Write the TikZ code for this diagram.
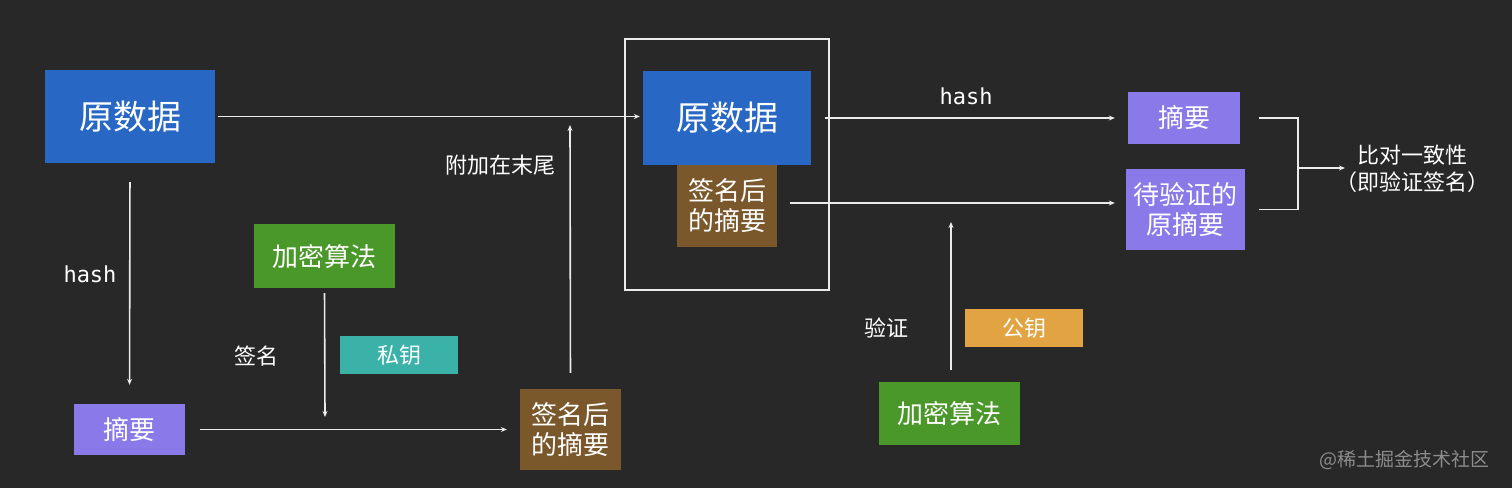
\documentclass[tikz,border=0pt]{standalone}
\usepackage{fontspec}
\setmainfont{Noto Sans CJK SC}
\newfontfamily\monof{DejaVu Sans Mono}
\usetikzlibrary{arrows.meta}
\definecolor{bg}{RGB}{40,40,40}
\definecolor{cblue}{RGB}{40,104,196}
\definecolor{cpurple}{RGB}{138,121,232}
\definecolor{cgreen}{RGB}{74,152,41}
\definecolor{cteal}{RGB}{58,178,168}
\definecolor{cbrown}{RGB}{122,88,44}
\definecolor{corange}{RGB}{226,164,66}
\definecolor{cline}{RGB}{235,235,235}
\definecolor{cwm}{RGB}{140,140,140}
\begin{document}
\begin{tikzpicture}[x=1pt,y=-1pt,
  box/.style={inner sep=0pt, text=white, align=center, minimum width=#1},
  big/.style={font=\fontsize{34}{38}\selectfont},
  mid/.style={font=\fontsize{26}{30}\selectfont},
  small/.style={font=\fontsize{22}{26}\selectfont},
  lbl/.style={text=white, inner sep=0pt, font=\fontsize{22}{27}\selectfont, align=center},
  hashlbl/.style={text=white, inner sep=0pt, font=\monof\fontsize{22}{26}\selectfont},
  conn/.style={draw=cline, line width=1.6pt, -{Stealth[length=6pt,width=5pt]}},
  plain/.style={draw=cline, line width=1.6pt}
]
\useasboundingbox (0,0) rectangle (1512,488);
\fill[bg] (0,0) rectangle (1512,488);

% left side
\node[box=170pt, minimum height=93pt, fill=cblue, big] (A) at (130,116.5) {原数据};
\node[box=111pt, minimum height=51pt, fill=cpurple, mid] (B) at (129.5,429.5) {摘要};
\node[box=141pt, minimum height=64pt, fill=cgreen, mid] (C) at (324.5,256) {加密算法};
\node[box=118pt, minimum height=38pt, fill=cteal, small] (D) at (399,355) {私钥};
\node[box=101pt, minimum height=81pt, fill=cbrown, mid] (E) at (570.5,429.5) {签名后\\的摘要};

% middle frame
\node[draw=cline, line width=1.6pt, minimum width=204pt, minimum height=251pt, inner sep=0pt] (F) at (727,164.5) {};
\node[box=168pt, minimum height=94pt, fill=cblue, big] (G) at (727,118) {原数据};
\node[box=100pt, minimum height=82pt, fill=cbrown, mid] (H) at (727,206) {签名后\\的摘要};

% right side
\node[box=112pt, minimum height=52pt, fill=cpurple, mid] (I) at (1184,118) {摘要};
\node[box=119pt, minimum height=81pt, fill=cpurple, mid] (J) at (1185.5,209.5) {待验证的\\原摘要};
\node[box=118pt, minimum height=38pt, fill=corange, small] (K) at (1024,328) {公钥};
\node[box=141pt, minimum height=63pt, fill=cgreen, mid] (L) at (949.5,413.5) {加密算法};
\node[lbl] (M) at (1412,169) {比对一致性\\（即验证签名）};

% labels
\node[hashlbl] (h1) at (90,274) {hash};
\node[lbl] (s1) at (256,356) {签名};
\node[lbl] (s2) at (500,165) {附加在末尾};
\node[hashlbl] (h2) at (966,96) {hash};
\node[lbl] (s3) at (886,328) {验证};
\node[text=cwm, inner sep=0pt, font=\fontsize{19}{22}\selectfont] (wm) at (1404,460) {@稀土掘金技术社区};

% free ends
\coordinate (cEnd) at (325,417);
\coordinate (eEnd) at (570,125);
\coordinate (lEnd) at (951,222);
\coordinate (brk) at (1298,168);
\coordinate (mIn) at (1345,168);

% connectors
\draw[conn, shorten <=3pt, shorten >=3pt] (A.east) -- (A.east -| G.west);
\draw[conn, shorten <=19pt, shorten >=19pt] (A.south) -- (B.north);
\draw[conn, shorten <=15pt, shorten >=13pt] (B.east) -- (B.east -| E.west);
\draw[conn, shorten <=5pt] (C.south) -- (cEnd);
\draw[conn, shorten <=16pt] (E.north) -- (eEnd);
\draw[conn, shorten <=14pt, shorten >=13pt] (G.east) -- (G.east -| I.west);
\draw[conn, shorten <=13pt, shorten >=11pt] ([yshift=3pt]H.east) -- ([yshift=3pt]H.east -| J.west);
\draw[conn, shorten <=12pt] ([xshift=1.5pt]L.north) -- (lEnd);
\draw[plain] ([xshift=19pt]I.east) -| (brk) |- ([xshift=14pt]J.east);
\draw[conn] (brk) -- (mIn);
\end{tikzpicture}
\end{document}
